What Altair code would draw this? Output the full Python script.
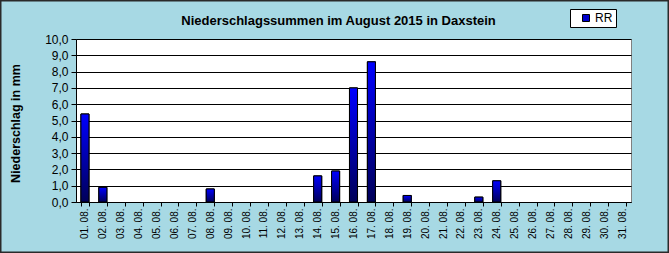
import altair as alt
import pandas as pd

days = [f"{d:02d}. 08." for d in range(1, 32)]
rr = [5.4, 0.9, 0, 0, 0, 0, 0, 0.8, 0, 0, 0, 0, 0, 1.6, 1.9, 7.0, 8.6, 0, 0.4, 0, 0, 0, 0.3, 1.3,
      0, 0, 0, 0, 0, 0, 0]
series = ["RR"] * len(days)
y_ticks = [0, 1, 2, 3, 4, 5, 6, 7, 8, 9, 10]

df = pd.DataFrame({"tag": days, "rr": rr, "serie": series})

FONT = "Liberation Sans, Arial"

x_enc = alt.X(
    "tag:N", sort=days, title=None,
    scale=alt.Scale(domain=days, paddingInner=0.55, paddingOuter=0.275),
    axis=alt.Axis(labelAngle=-90, labelFontSize=10, labelFont=FONT, labelColor="black",
                  tickBand="extent", tickSize=4, tickColor="black", domainColor="black",
                  labelPadding=2, grid=False),
)
y_enc = alt.Y(
    "rr:Q", title="Niederschlag in mm",
    scale=alt.Scale(domain=[0, 10], nice=False),
    axis=alt.Axis(values=y_ticks, labelExpr="replace(format(datum.value, '.1f'), '.', ',')",
                  labelFontSize=12, labelFont=FONT, labelColor="black", labelPadding=3,
                  tickSize=5, tickColor="black", domainColor="black",
                  grid=True, gridColor="black", gridWidth=1,
                  titleFont=FONT, titleFontSize=12.5, titleFontWeight="bold", titleColor="black",
                  titleX=-61, titleY=84, titleAngle=-90, titleAlign="center", titleBaseline="middle"),
)

base = alt.Chart(df).transform_filter("datum.rr > 0")

solid = base.mark_bar(stroke="black", strokeWidth=1).encode(
    x=x_enc, y=y_enc,
    color=alt.Color("serie:N", scale=alt.Scale(range=["#0000cc"]),
                    legend=alt.Legend(title=None, orient="none", legendX=494, legendY=-30,
                                      fillColor="white", strokeColor="black", padding=3,
                                      symbolType="square", symbolSize=49, symbolOffset=7,
                                      symbolStrokeColor="black", symbolStrokeWidth=1,
                                      labelFont=FONT, labelFontSize=12, labelColor="black",
                                      labelOffset=3)),
)

grad = base.mark_bar(
    stroke="black", strokeWidth=1,
    fill=alt.LinearGradient(
        gradient="linear",
        stops=[alt.GradientStop(color="#0000ff", offset=0),
               alt.GradientStop(color="#000058", offset=1)],
        x1=0, x2=0, y1=0, y2=1),
).encode(x=x_enc, y=y_enc)

frame = alt.Chart(pd.DataFrame({"a": [0]})).mark_rect(
    fillOpacity=0, stroke="#2a2a2a", strokeWidth=1.5, clip=False
).encode(x=alt.value(-75.25), x2=alt.value(592.25), y=alt.value(-38.25), y2=alt.value(213.25))

chart = alt.layer(solid, grad, frame).properties(
    width=555, height=163,
    title=alt.TitleParams("Niederschlagssummen im August 2015 in Daxstein", font=FONT,
                          fontSize=13, fontWeight="bold", color="black", anchor="middle",
                          frame="group", dx=-15, dy=28, offset=0),
    autosize=alt.AutoSizeParams(type="none"),
    padding={"left": 76, "top": 39, "right": 38, "bottom": 51},
).configure(background="#a7d9e4").configure_view(fill="white", stroke="#808080", strokeWidth=1)

chart.save("out.html", embed_options={"renderer": "svg", "actions": False})
